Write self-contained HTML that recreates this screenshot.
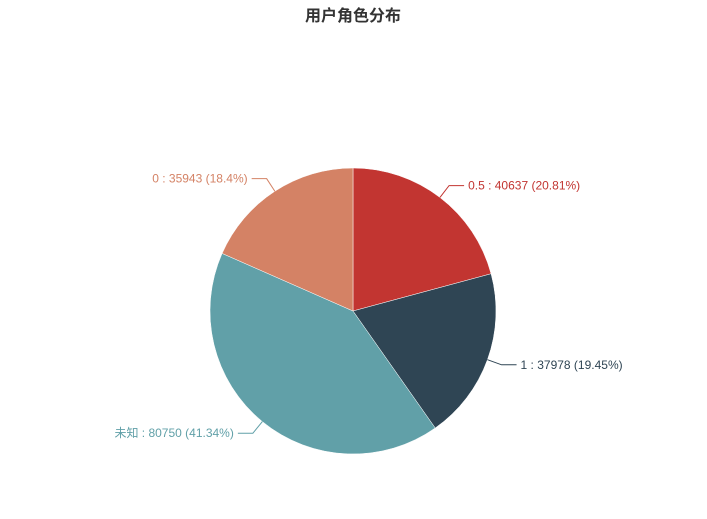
<!DOCTYPE html>
<html><head><meta charset="utf-8"><style>
html,body{margin:0;padding:0;background:#fff;}
svg{display:block;font-family:"Liberation Sans","Noto Sans CJK SC",sans-serif;}
</style></head><body>
<svg id="chart" width="707" height="519">
<text x="353" y="21" text-anchor="middle" font-size="16" font-weight="bold" fill="#333">用户角色分布</text>
<g id="slices"></g>
</svg>
<script>
const categories = ["0.5", "1", "未知", "0"];
const values = [40637, 37978, 80750, 35943];
const percents = ["20.81%", "19.45%", "41.34%", "18.4%"];
const colors = ["#c23531", "#2f4554", "#61a0a8", "#d48265"];
const cx = 353, cy = 311, R = 143;
const NS = "http://www.w3.org/2000/svg";
const g = document.getElementById("slices");
const total = values.reduce((a,b)=>a+b,0);
function pt(a, r){ return [cx + r*Math.sin(a), cy - r*Math.cos(a)]; }
let start = 0;
values.forEach((v,i)=>{
  const ang = v/total*Math.PI*2, end = start+ang;
  const p1 = pt(start,R), p2 = pt(end,R);
  const path = document.createElementNS(NS,"path");
  path.setAttribute("d",`M${cx},${cy}L${p1[0]},${p1[1]}A${R},${R} 0 ${ang>Math.PI?1:0} 1 ${p2[0]},${p2[1]}Z`);
  path.setAttribute("fill",colors[i]);
  path.setAttribute("stroke","#fff");
  path.setAttribute("stroke-width","0.5");
  
  
  g.appendChild(path);
  const mid = start+ang/2;
  const e = pt(mid,R), o = pt(mid,R+15);
  const right = Math.sin(mid) >= 0;
  const hx = o[0] + (right?15:-15);
  const line = document.createElementNS(NS,"polyline");
  line.setAttribute("points",`${e[0]},${e[1]} ${o[0]},${o[1]} ${hx},${o[1]}`);
  line.setAttribute("fill","none");
  line.setAttribute("stroke",colors[i]);
  
  
  g.appendChild(line);
  const t = document.createElementNS(NS,"text");
  t.setAttribute("x", hx + (right?4:-4));
  t.setAttribute("y", o[1]+4);
  t.setAttribute("text-anchor", right?"start":"end");
  t.setAttribute("font-size","12");
  t.setAttribute("fill",colors[i]);
  t.textContent = `${categories[i]} : ${values[i]} (${percents[i]})`;
  
  
  g.appendChild(t);
  start = end;
});
</script>
</body></html>
